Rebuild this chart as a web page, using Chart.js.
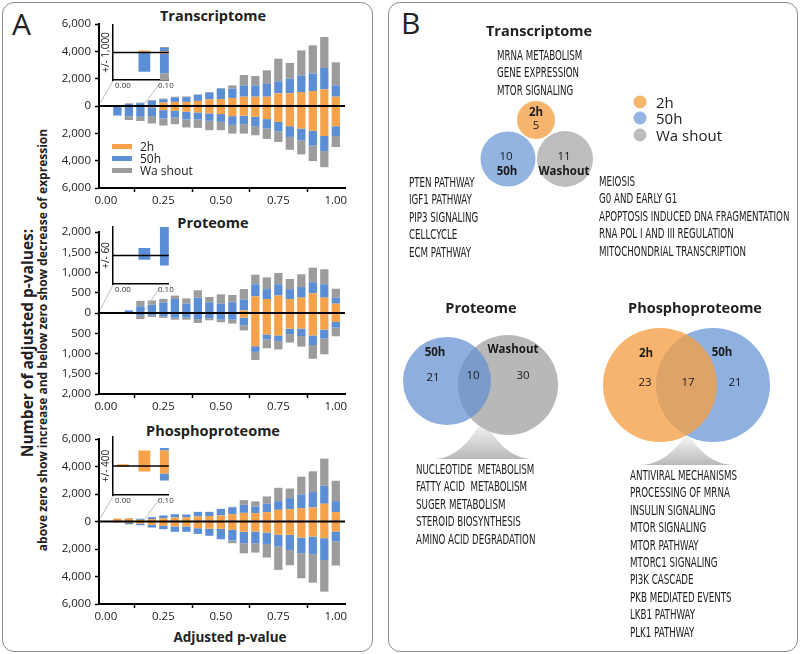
<!DOCTYPE html>
<html>
<head>
<meta charset="utf-8">
<script src="https://cdn.jsdelivr.net/npm/chart.js@4.4.1/dist/chart.umd.min.js"></script>
<style>
  body { margin: 0; width: 800px; height: 654px; position: relative; background: #fff; overflow: hidden;
         font-family: 'Open Sans', sans-serif; color: #222; }
  canvas { position: absolute; }
  .box { position: absolute; border: 1.5px solid #8c8c8c; border-radius: 12px; box-sizing: border-box; }
  .ttl { position: absolute; font-weight: 700; font-size: 14.5px; transform: translate(-50%, -50%); white-space: nowrap; }
  .letter { position: absolute; font-size: 30px; line-height: 1; }
  .rot { position: absolute; font-weight: 700; white-space: nowrap; transform: translate(-50%, -50%) rotate(-90deg); }
  .lst { position: absolute; font-family: 'Liberation Sans Narrow', 'DejaVu Sans Condensed', sans-serif; font-size: 14px;
         line-height: 17.4px; white-space: pre; transform-origin: 0 0; transform: scaleX(0.69); color: #222; }
  .sw { position: absolute; width: 20px; height: 5px; }
  .lg { position: absolute; font-size: 12px; transform: translateY(-50%); white-space: nowrap; }
  .dot { position: absolute; width: 13px; height: 13px; border-radius: 50%; transform: translate(-50%, -50%); }
  .lgb { position: absolute; font-size: 15px; transform: translateY(-50%); white-space: nowrap; }
</style>
</head>
<body>
<div class="box" style="left:2px;top:2px;width:371px;height:650px"></div>
<div class="box" style="left:388px;top:2px;width:410px;height:650px"></div>
<div class="letter" style="left:12px;top:9px">A</div>
<div class="letter" style="left:401px;top:8px">B</div>

<div class="ttl" style="left:213px;top:15px">Transcriptome</div>
<div class="ttl" style="left:213px;top:222px">Proteome</div>
<div class="ttl" style="left:213px;top:430px">Phosphoproteome</div>
<div class="rot" style="left:27px;top:343px;font-size:15.5px">Number of adjusted p-values:</div>
<div class="rot" style="left:42px;top:340px;font-size:12px">above zero show increase and below zero show decrease of expression</div>
<div class="ttl" style="left:230px;top:637px;font-size:13.5px">Adjusted p-value</div>

<canvas id="trans" width="320" height="215" style="left:40px;top:0px"></canvas>
<canvas id="prot" width="320" height="211" style="left:40px;top:210px"></canvas>
<canvas id="phos" width="320" height="213" style="left:40px;top:418px"></canvas>
<canvas id="transIn" width="75" height="80" style="left:100px;top:15px"></canvas>
<canvas id="protIn" width="75" height="82" style="left:100px;top:217px"></canvas>
<canvas id="phosIn" width="75" height="83" style="left:100px;top:427px"></canvas>

<div class="sw" style="left:112px;top:144px;background:#F5A24B"></div>
<div class="sw" style="left:112px;top:156px;background:#5B8ED5"></div>
<div class="sw" style="left:112px;top:168px;background:#9C9C9C"></div>
<div class="lg" style="left:140px;top:146px">2h</div>
<div class="lg" style="left:140px;top:158px">50h</div>
<div class="lg" style="left:140px;top:170px">Wa shout</div>

<canvas id="venn" width="410" height="654" style="left:388px;top:0px"></canvas>

<div class="ttl" style="left:539px;top:30px">Transcriptome</div>
<div class="ttl" style="left:481px;top:307px">Proteome</div>
<div class="ttl" style="left:695px;top:307px">Phosphoproteome</div>

<div class="dot" style="left:640px;top:102px;background:#F7B46D"></div>
<div class="dot" style="left:640px;top:118px;background:#93B3E0"></div>
<div class="dot" style="left:640px;top:135px;background:#BDBDBD"></div>
<div class="lgb" style="left:656px;top:102px">2h</div>
<div class="lgb" style="left:656px;top:118px">50h</div>
<div class="lgb" style="left:656px;top:135px">Wa shout</div>

<div class="lst" style="left:497px;top:47px">MRNA METABOLISM
GENE EXPRESSION
MTOR SIGNALING</div>
<div class="lst" style="left:409px;top:174px">PTEN PATHWAY
IGF1 PATHWAY
PIP3 SIGNALING
CELLCYCLE
ECM PATHWAY</div>
<div class="lst" style="left:599px;top:173px">MEIOSIS
G0 AND EARLY G1
APOPTOSIS INDUCED DNA FRAGMENTATION
RNA POL I AND III REGULATION
MITOCHONDRIAL TRANSCRIPTION</div>
<div class="lst" style="left:416px;top:461px">NUCLEOTIDE  METABOLISM
FATTY ACID  METABOLISM
SUGER METABOLISM
STEROID BIOSYNTHESIS
AMINO ACID DEGRADATION</div>
<div class="lst" style="left:630px;top:467px">ANTIVIRAL MECHANISMS
PROCESSING OF MRNA
INSULIN SIGNALING
MTOR SIGNALING
MTOR PATHWAY
MTORC1 SIGNALING
PI3K CASCADE
PKB MEDIATED EVENTS
LKB1 PATHWAY
PLK1 PATHWAY</div>

<script>
// adjusted p-value bins
const pValues = [0.00, 0.05, 0.10, 0.15, 0.20, 0.25, 0.30, 0.35, 0.40, 0.45, 0.50,
                 0.55, 0.60, 0.65, 0.70, 0.75, 0.80, 0.85, 0.90, 0.95, 1.00]
const xTicks = [0, 0.25, 0.5, 0.75, 1]
const insetTicks = [0, 0.1]

// Transcriptome, segment sizes (increase above zero, decrease below)
const transUp2h     = [0, 70, 40, 0, 60, 250, 300, 300, 370, 490, 510, 590, 680, 680, 680, 930, 930, 1020, 1100, 1220, 680]
const transUp50h    = [0, 0, 120, 200, 340, 250, 330, 350, 450, 500, 760, 680, 830, 830, 930, 870, 1070, 1220, 1270, 1560, 830]
const transUpWash   = [0, 0, 40, 50, 40, 40, 50, 50, 30, 30, 50, 240, 760, 690, 1000, 1660, 1150, 1830, 2070, 2270, 1690]
const transDown2h   = [0, 0, 40, 0, 100, 300, 340, 420, 470, 540, 590, 740, 710, 790, 960, 1160, 1480, 1650, 1820, 2190, 1480]
const transDown50h  = [0, 700, 710, 790, 640, 610, 500, 560, 510, 540, 570, 640, 620, 690, 690, 690, 780, 860, 1080, 1110, 710]
const transDownWash = [0, 0, 280, 310, 540, 520, 490, 590, 620, 690, 610, 640, 690, 660, 760, 780, 940, 1030, 1130, 1180, 810]

// Proteome
const protUp2h     = [0, 0, 0, 0, 0, 0, 0, 0, 0, 0, 0, 0, 65, 410, 345, 430, 345, 380, 490, 380, 230]
const protUp50h    = [0, 16, 65, 165, 205, 260, 345, 230, 380, 265, 230, 265, 265, 300, 245, 280, 245, 260, 270, 330, 150]
const protUpWash   = [0, 0, 0, 135, 105, 90, 85, 130, 180, 130, 230, 180, 260, 235, 290, 280, 250, 315, 360, 370, 220]
const protDown2h   = [0, 0, 0, 0, 0, 0, 0, 0, 0, 0, 0, 0, 115, 820, 530, 555, 385, 385, 555, 410, 220]
const protDown50h  = [0, 9, 21, 65, 60, 80, 115, 115, 150, 130, 165, 165, 185, 140, 120, 135, 135, 185, 235, 220, 140]
const protDownWash = [0, 0, 0, 85, 40, 40, 50, 50, 95, 50, 65, 95, 130, 200, 220, 210, 210, 260, 340, 390, 215]

// Phosphoproteome
const phosUp2h     = [25, 215, 215, 120, 170, 240, 290, 310, 365, 390, 440, 530, 630, 610, 680, 850, 900, 970, 1020, 1290, 680]
const phosUp50h    = [0, 0, 35, 80, 146, 200, 240, 200, 335, 310, 480, 480, 585, 485, 610, 630, 800, 1000, 1120, 1310, 800]
const phosUpWash   = [0, 0, 0, 0, 0, 0, 0, 0, 0, 0, 0, 60, 340, 365, 530, 970, 700, 1290, 1510, 1970, 1480]
const phosDown2h   = [10, 75, 105, 150, 240, 320, 360, 360, 490, 530, 530, 610, 750, 730, 800, 970, 970, 1170, 1090, 1215, 730]
const phosDown50h  = [0, 0, 95, 120, 200, 240, 390, 390, 410, 510, 760, 775, 830, 850, 830, 850, 1100, 1140, 1290, 1585, 730]
const phosDownWash = [0, 0, 0, 0, 0, 0, 0, 0, 0, 0, 0, 195, 730, 680, 990, 1700, 1110, 1820, 2070, 2300, 1740]

// Venn counts (pathways)
const transVennNames  = ['2h', '50h', 'Washout']
const transVennCounts = [5, 10, 11]
const protVennNames   = ['50h', 'Washout']
const protVennCounts  = [21, 10, 30]   // 50h only, shared, washout only
const phosVennNames   = ['2h', '50h']
const phosVennCounts  = [23, 17, 21]   // 2h only, shared, 50h only

const orange = '#F5A24B', blue = '#5B8ED5', gray = '#9C9C9C'
const seriesNames = ['2h', '50h', 'Washout']

Chart.defaults.font.family = "'Open Sans', sans-serif"
Chart.defaults.color = '#222'

function series(arr, sign) {
  return pValues.map((p, i) => ({ x: p, y: sign * arr[i] }))
}

function barSets(up, down, extra) {
  const cols = [orange, blue, gray]
  const sets = []
  up.forEach((a, k) => sets.push(Object.assign({ label: seriesNames[k], data: series(a, 1), backgroundColor: cols[k] }, extra)))
  down.forEach((a, k) => sets.push(Object.assign({ label: seriesNames[k], data: series(a, -1), backgroundColor: cols[k] }, extra)))
  return sets
}

// black line at zero, on top of the bars
const zeroLine = {
  id: 'zeroLine',
  afterDatasetsDraw(chart, args, opts) {
    const { ctx, chartArea: a } = chart
    const y0 = chart.scales.y.getPixelForValue(0)
    ctx.save()
    ctx.strokeStyle = '#000'
    ctx.lineWidth = opts.width || 2
    ctx.beginPath(); ctx.moveTo(a.left, y0); ctx.lineTo(a.right, y0); ctx.stroke()
    ctx.restore()
  }
}

const insets = {}

// thin grey lines from the inset down to the zero line
const connector = {
  id: 'connector',
  afterDraw(chart, args, opts) {
    const inset = insets[opts.key]
    if (!inset) return
    const dx = inset.canvas.offsetLeft - chart.canvas.offsetLeft
    const dy = inset.canvas.offsetTop - chart.canvas.offsetTop
    const ia = inset.chartArea
    const { x, y } = chart.scales
    const y0 = y.getPixelForValue(0) - 3
    const ctx = chart.ctx
    ctx.save()
    ctx.strokeStyle = '#bdbdbd'
    ctx.lineWidth = 1
    ctx.beginPath()
    ctx.moveTo(ia.left + dx, ia.bottom + 1 + dy)
    ctx.lineTo(x.getPixelForValue(-0.025), y0)
    ctx.moveTo(inset.scales.x.getPixelForValue(0.085) + dx, ia.bottom + 4 + dy)
    ctx.lineTo(x.getPixelForValue(0.17), y0)
    ctx.stroke()
    ctx.restore()
  }
}

function axisGrid() {
  return { display: true, drawOnChartArea: false, drawTicks: true, tickLength: 4, tickColor: '#000', tickWidth: 1.5, color: '#000' }
}

function fixedTicks(values) {
  return s => { s.ticks = values.map(v => ({ value: v })) }
}

function insetChart(id, up, down, lim, title) {
  insets[id] = new Chart(document.getElementById(id + 'In'), {
    type: 'bar',
    data: { datasets: barSets(up, down, { barPercentage: 0.55, categoryPercentage: 1, clip: 0 }) },
    options: {
      responsive: false, animation: false, devicePixelRatio: 1,
      layout: { padding: { top: 10, right: 5, left: 0, bottom: 0 }, autoPadding: false },
      plugins: { legend: { display: false }, tooltip: { enabled: false }, zeroLine: { width: 1.5 } },
      scales: {
        x: {
          type: 'linear', stacked: true, min: -0.023, max: 0.107, bounds: 'data', offset: false,
          afterBuildTicks: fixedTicks(insetTicks),
          ticks: { callback: v => v.toFixed(2), font: { size: 8 }, padding: 1, maxRotation: 0, color: '#333' },
          grid: { display: false, drawTicks: false },
          border: { display: true, color: '#000', width: 1.5 },
          afterFit: s => { s.height = 15 }
        },
        y: {
          stacked: true, min: -lim, max: lim,
          ticks: { display: false },
          grid: { display: false, drawTicks: false },
          border: { display: true, color: '#000', width: 1.5 },
          title: { display: true, text: title, font: { size: 10 }, padding: 0, color: '#222' },
          afterFit: s => { s.width = 13 }
        }
      }
    },
    plugins: [zeroLine]
  })
}

function mainChart(id, up, down, lim, step, padTop) {
  return new Chart(document.getElementById(id), {
    type: 'bar',
    data: { datasets: barSets(up, down, { barPercentage: 0.72, categoryPercentage: 1 }) },
    options: {
      responsive: false, animation: false, devicePixelRatio: 1,
      layout: { padding: { top: padTop, right: 15, left: 0, bottom: 0 }, autoPadding: false },
      plugins: { legend: { display: false }, tooltip: { enabled: false }, zeroLine: { width: 2 }, connector: { key: id } },
      scales: {
        x: {
          type: 'linear', stacked: true, min: -0.03, max: 1.04, bounds: 'data', offset: false,
          afterBuildTicks: fixedTicks(xTicks),
          ticks: { callback: v => v.toFixed(2), font: { size: 11.5 }, padding: 2, maxRotation: 0 },
          grid: axisGrid(),
          border: { display: true, color: '#000', width: 2 },
          afterFit: s => { s.height = 27 }
        },
        y: {
          stacked: true, min: -lim, max: lim,
          ticks: { stepSize: step, callback: v => Math.abs(v).toLocaleString('en-US'), font: { size: 11.5 }, padding: 4 },
          grid: axisGrid(),
          border: { display: true, color: '#000', width: 2 },
          afterFit: s => { s.width = 59 }
        }
      }
    },
    plugins: [zeroLine, connector]
  })
}

insetChart('trans', [transUp2h, transUp50h, transUpWash], [transDown2h, transDown50h, transDownWash], 1000, '+/- 1,000')
insetChart('prot', [protUp2h, protUp50h, protUpWash], [protDown2h, protDown50h, protDownWash], 60, '+/- 60')
insetChart('phos', [phosUp2h, phosUp50h, phosUpWash], [phosDown2h, phosDown50h, phosDownWash], 400, '+/- 400')

mainChart('trans', [transUp2h, transUp50h, transUpWash], [transDown2h, transDown50h, transDownWash], 6000, 2000, 24)
mainChart('prot', [protUp2h, protUp50h, protUpWash], [protDown2h, protDown50h, protDownWash], 2000, 500, 22)
mainChart('phos', [phosUp2h, phosUp50h, phosUpWash], [phosDown2h, phosDown50h, phosDownWash], 6000, 2000, 21)

// ---- panel B: Venn diagrams drawn as bubbles on a page-sized scale ----
const vennCircles = [
  { x: 536, y: 120, r: 19, c: '#F7B46D' },
  { x: 508, y: 159, r: 27.5, c: '#93B3E0' },
  { x: 565, y: 159, r: 28, c: '#BDBDBD' },
  { x: 508, y: 385, r: 50, c: '#B8B8B8' },
  { x: 447, y: 381, r: 44, c: 'rgba(100,145,208,0.73)' },
  { x: 713, y: 385, r: 57, c: '#8FB1DF' },
  { x: 660, y: 385, r: 57, c: 'rgba(245,159,69,0.78)' }
]

const vennLabels = [
  { x: 536, y: 113, t: transVennNames[0], b: true }, { x: 536, y: 126, t: transVennCounts[0] },
  { x: 506, y: 157, t: transVennCounts[1] }, { x: 507, y: 172, t: transVennNames[1], b: true },
  { x: 564, y: 157, t: transVennCounts[2] }, { x: 564, y: 172, t: transVennNames[2], b: true },
  { x: 435, y: 353, t: protVennNames[0], b: true }, { x: 433, y: 378, t: protVennCounts[0] },
  { x: 473, y: 376, t: protVennCounts[1] }, { x: 513, y: 350, t: protVennNames[1], b: true },
  { x: 523, y: 376, t: protVennCounts[2] },
  { x: 646, y: 354, t: phosVennNames[0], b: true }, { x: 645, y: 383, t: phosVennCounts[0] },
  { x: 688, y: 383, t: phosVennCounts[1] }, { x: 722, y: 353, t: phosVennNames[1], b: true },
  { x: 735, y: 383, t: phosVennCounts[2] }
]

const fans = [
  { ax: 483, ay: 423, by: 459, w: 48 },
  { ax: 687, ay: 436, by: 465, w: 45 }
]

const vennDecor = {
  id: 'vennDecor',
  beforeDatasetsDraw(chart) {
    const { ctx, scales: { x, y } } = chart
    ctx.save()
    fans.forEach(f => {
      const ax = x.getPixelForValue(f.ax), ay = y.getPixelForValue(f.ay), by = y.getPixelForValue(f.by)
      const w = f.w
      const g = ctx.createLinearGradient(0, ay, 0, by)
      g.addColorStop(0, '#f6f6f6')
      g.addColorStop(1, '#b9b9b9')
      ctx.fillStyle = g
      ctx.beginPath()
      ctx.moveTo(ax - w, by)
      ctx.bezierCurveTo(ax - w * 0.35, by - 2, ax - w * 0.12, ay, ax, ay)
      ctx.bezierCurveTo(ax + w * 0.12, ay, ax + w * 0.35, by - 2, ax + w, by)
      ctx.closePath()
      ctx.fill()
    })
    ctx.restore()
  },
  afterDatasetsDraw(chart) {
    const { ctx, scales: { x, y } } = chart
    ctx.save()
    ctx.textAlign = 'center'
    ctx.textBaseline = 'middle'
    ctx.fillStyle = '#1a1a1a'
    vennLabels.forEach(l => {
      ctx.font = (l.b ? '700 ' : '400 ') + '11.5px "Open Sans", sans-serif'
      ctx.fillText(String(l.t), x.getPixelForValue(l.x), y.getPixelForValue(l.y))
    })
    ctx.restore()
  }
}

new Chart(document.getElementById('venn'), {
  type: 'bubble',
  data: {
    datasets: [{
      data: vennCircles.map(c => ({ x: c.x, y: c.y, r: c.r })),
      backgroundColor: vennCircles.map(c => c.c),
      borderWidth: 0,
      hoverRadius: 0
    }]
  },
  options: {
    responsive: false, animation: false, devicePixelRatio: 1,
    layout: { padding: 0, autoPadding: false },
    plugins: { legend: { display: false }, tooltip: { enabled: false } },
    scales: {
      x: { type: 'linear', min: 388, max: 798, display: false },
      y: { type: 'linear', min: 0, max: 654, reverse: true, display: false }
    }
  },
  plugins: [vennDecor]
})
</script>
</body>
</html>
